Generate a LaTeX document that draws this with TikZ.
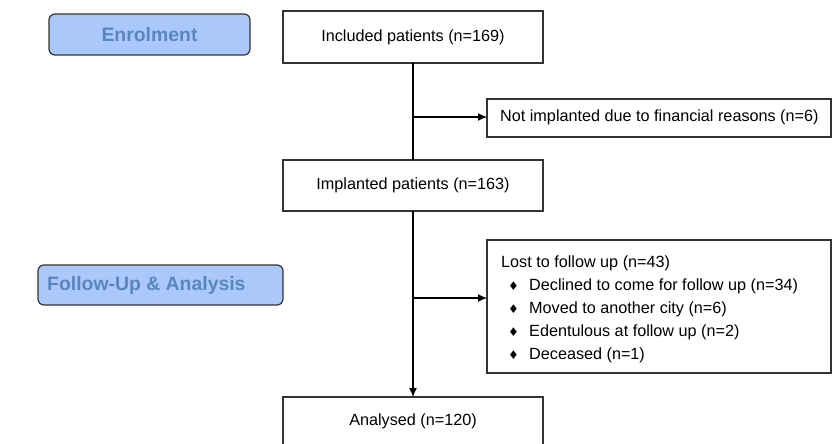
\documentclass[tikz,border=0pt]{standalone}
\usepackage{fontspec}
\setmainfont{Liberation Sans}
\newfontfamily\symfont{DejaVu Sans}
\usetikzlibrary{arrows.meta}
\definecolor{phasefill}{HTML}{ABC8FA}
\definecolor{phasetext}{HTML}{5A86BE}
\definecolor{boxline}{HTML}{333333}
\tikzset{
  flowbox/.style={draw=boxline, line width=1.2pt, fill=white},
  phasebox/.style={draw=boxline, line width=1.2pt, fill=phasefill, rounded corners=6pt},
  phaselabel/.style={font=\fontsize{19.4}{22}\selectfont\bfseries, text=phasetext, inner sep=0pt, anchor=center},
  flowtext/.style={font=\fontsize{16.2}{19}\selectfont, inner sep=0pt, anchor=center},
  flowline/.style={line width=1.2pt, draw=black},
  flowarrow/.style={flowline, -{Latex[length=9pt,width=8pt]}}
}
\newcommand{\bitem}{\hspace*{7pt}\makebox[21pt][l]{\raisebox{0.5pt}{\symfont\fontsize{12}{12}\selectfont ♦}}}
\begin{document}
\begin{tikzpicture}[x=1pt,y=-1pt]
\useasboundingbox (0,0) rectangle (832,444);
\clip (0,0) rectangle (832,444);
% phase boxes
\draw[phasebox] (49,14) rectangle (250,55);
\node[phaselabel] (enrol) at (149.5,35) {Enrolment};
\draw[phasebox] (38,265) rectangle (283,305);
\node[phaselabel, anchor=west] (fu) at (47,285.5) {Follow-Up \& Analysis};
% main boxes
\draw[flowbox] (283,11) rectangle (543,63);
\node[flowtext] (incl) at (413,37) {Included patients (n=169)};
\draw[flowbox] (283,160) rectangle (543,211);
\node[flowtext] (impl) at (413,185.5) {Implanted patients (n=163)};
\draw[flowbox] (283,397) rectangle (543,460);
\node[flowtext] (anal) at (413,421) {Analysed (n=120)};
% side boxes
\draw[flowbox] (487,99) rectangle (831,137);
\node[flowtext, anchor=west] (notimpl) at (500,117) {Not implanted due to financial reasons (n=6)};
\draw[flowbox] (487,240) rectangle (831,373);
\node[flowtext, anchor=north west, align=left, font=\fontsize{16.2}{23}\selectfont] (lost) at (501,256) {Lost to follow up (n=43)\\
\bitem Declined to come for follow up (n=34)\\
\bitem Moved to another city (n=6)\\
\bitem Edentulous at follow up (n=2)\\
\bitem Deceased (n=1)};
% coordinates
\coordinate (inclB) at (413,63);
\coordinate (implT) at (413,160);
\coordinate (implB) at (413,211);
\coordinate (analT) at (413,397);
\coordinate (j1) at (413,117);
\coordinate (j1e) at (487,117);
\coordinate (j2) at (413,298);
\coordinate (j2e) at (487,298);
% connectors
\draw[flowline] (inclB) -- (implT);
\draw[flowarrow] (j1) -- (j1e);
\draw[flowarrow] (implB) -- (analT);
\draw[flowarrow] (j2) -- (j2e);
\end{tikzpicture}
\end{document}
